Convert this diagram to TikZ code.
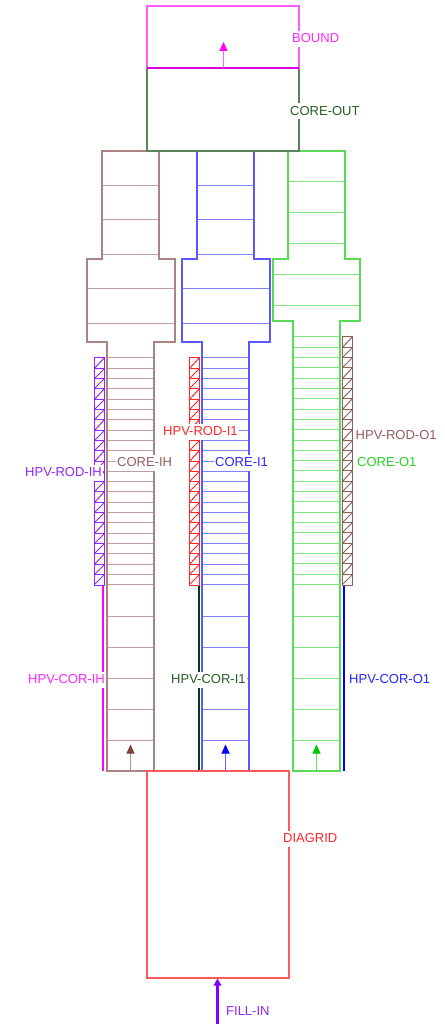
\documentclass[tikz,border=0pt]{standalone}
\usepackage{fontspec}
\setmainfont{Liberation Sans}
\usetikzlibrary{arrows.meta}
\definecolor{cbrown}{HTML}{804040}
\definecolor{cblue}{HTML}{0000FF}
\definecolor{cgreen}{HTML}{00C800}
\definecolor{cred}{HTML}{FF0000}
\definecolor{cmag}{HTML}{FF00FF}
\definecolor{cpurp}{HTML}{8000FF}
\definecolor{cdark}{HTML}{004000}
\tikzset{
  wall/.style={line width=2pt,draw=#1!65!white},
  rung/.style={line width=1pt,draw=#1!50!white},
  strip/.style={line width=1pt,draw=#1!85!white},
  thickwall/.style={line width=2pt},
  flow/.style={line width=1pt,draw=#1!60!white,-{Triangle[length=9pt,width=8pt,color=#1]}},
  lbl/.style={font=\fontsize{13}{14}\selectfont,text=#1!85!white,fill=white,inner xsep=1pt,inner ysep=1.75pt,text height=10pt,text depth=2.5pt,anchor=west},
}
\begin{document}
\begin{tikzpicture}[x=1pt,y=-1pt]
\useasboundingbox (0,0) rectangle (444,1024);
% rungs and outlines of the core channels
\foreach \c/\xa/\xb/\xc/\xd/\xe/\xf in {cbrown/102/159/87/175/107/154, cblue/197/254/182/270/202/249}{
  \foreach \y in {185.5,219.5,254.5}{\draw[rung=\c] (\xa,\y) -- (\xb,\y);}
  \foreach \y in {288.5,323.5}{\draw[rung=\c] (\xc,\y) -- (\xd,\y);}
  \foreach \i in {0,...,22}{
    \pgfmathsetmacro{\yy}{floor(357.7+\i*10.33)+0.5}
    \draw[rung=\c] (\xe,\yy) -- (\xf,\yy);}
  \foreach \y in {616.5,647.5,678.5,709.5,740.5}{\draw[rung=\c] (\xe,\y) -- (\xf,\y);}
  \draw[wall=\c] (\xa,151) -- (\xa,259) -- (\xc,259) -- (\xc,342) -- (\xe,342) -- (\xe,771) -- (\xf,771) -- (\xf,342) -- (\xd,342) -- (\xd,259) -- (\xb,259) -- (\xb,151) -- cycle;
}
\foreach \y in {181.5,212.5,243.5}{\draw[rung=cgreen] (288,\y) -- (345,\y);}
\foreach \y in {274.5,305.5}{\draw[rung=cgreen] (273,\y) -- (360,\y);}
\foreach \i in {0,...,24}{
  \pgfmathsetmacro{\yy}{floor(336.7+\i*10.33)+0.5}
  \draw[rung=cgreen] (293,\yy) -- (340,\yy);}
\foreach \y in {616.5,647.5,678.5,709.5,740.5}{\draw[rung=cgreen] (293,\y) -- (340,\y);}
\draw[wall=cgreen] (288,151) -- (288,259) -- (273,259) -- (273,321) -- (293,321) -- (293,771) -- (340,771) -- (340,321) -- (360,321) -- (360,259) -- (345,259) -- (345,151) -- cycle;
% hatched strips
\foreach \c/\xa/\xb/\n/\ys in {cpurp/94.5/104.5/21/357.7, cred/189.5/199.5/21/357.7, cbrown/342.5/352.5/23/336.7}{
  \pgfmathsetmacro{\ytop}{floor(\ys)+0.5}
  \draw[strip=\c] (\xa,\ytop) rectangle (\xb,585.5);
  \foreach \i in {1,...,\n}{
    \pgfmathsetmacro{\yy}{floor(\ys+\i*10.33)+0.5}
    \draw[strip=\c] (\xa,\yy) -- (\xb,\yy);
  }
  \pgfmathtruncatemacro{\nn}{\n+1}
  \foreach \i in {1,...,\nn}{
    \pgfmathsetmacro{\yy}{floor(\ys+\i*10.33)+0.5}
    \pgfmathsetmacro{\yz}{floor(\ys+\i*10.33-10.33)+0.5}
    \draw[strip=\c] (\xa,\yy) -- (\xb,\yz);
  }
}
% thick side walls
\draw[thickwall,cmag] (103,586) -- (103,771);
\draw[thickwall,cdark] (199,586) -- (199,771);
\draw[thickwall,cblue] (344,586) -- (344,771);
% blocks
\draw[wall=cred] (147,771) rectangle (289,978);
\draw[wall=cdark] (147,68) rectangle (299,151);
\draw[wall=cmag] (147,6) rectangle (299,68);
\draw[line width=2pt,cmag!85!black] (147,68) -- (299,68);
% arrows
\coordinate (aboundA) at (223.5,68); \coordinate (aboundB) at (223.5,42);
\coordinate (aihA) at (130.5,771); \coordinate (aihB) at (130.5,744.5);
\coordinate (ainA) at (225.5,771); \coordinate (ainB) at (225.5,744.5);
\coordinate (aoA) at (316.5,771); \coordinate (aoB) at (316.5,744.5);
\coordinate (afA) at (217.5,1024); \coordinate (afB) at (217.5,978.5);
\draw[flow=cmag] (aboundA) -- (aboundB);
\draw[flow=cbrown] (aihA) -- (aihB);
\draw[flow=cblue] (ainA) -- (ainB);
\draw[flow=cgreen] (aoA) -- (aoB);
\draw[line width=3pt,cpurp,-{Triangle[length=7pt,width=7.5pt]}] (afA) -- (afB);
% labels
\node[lbl=cmag] (bound) at (291,39) {BOUND};
\node[lbl=cdark] (coreout) at (289,111.5) {CORE-OUT};
\node[lbl=cred] (rodi) at (162,431.5) {HPV-ROD-I1};
\node[lbl=cbrown] (rodo) at (354.5,435.5) {HPV-ROD-O1};
\node[lbl=cpurp] (rodih) at (24,472.5) {HPV-ROD-IH};
\node[lbl=cbrown] (coreih) at (116,462.5) {CORE-IH};
\node[lbl=cblue] (corei) at (214,462.5) {CORE-I1};
\node[lbl=cgreen] (coreo) at (356,462.5) {CORE-O1};
\node[lbl=cmag] (corih) at (27,680) {HPV-COR-IH};
\node[lbl=cdark] (cori) at (170,680) {HPV-COR-I1};
\node[lbl=cblue] (coro) at (348,680) {HPV-COR-O1};
\node[lbl=cred] (diagrid) at (282,839) {DIAGRID};
\node[lbl=cpurp] (fill) at (225,1012) {FILL-IN};
\end{tikzpicture}
\end{document}
